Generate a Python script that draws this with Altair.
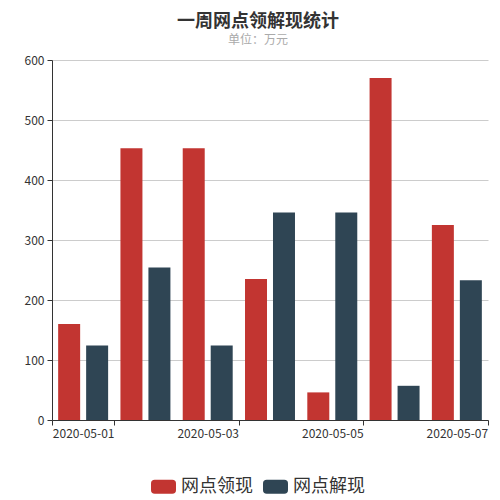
import altair as alt
import pandas as pd

dates = ["2020-05-01", "2020-05-02", "2020-05-03", "2020-05-04",
         "2020-05-05", "2020-05-06", "2020-05-07"]
series_names = ["网点领现", "网点解现"]
ling_xian = [160, 453, 453, 235, 46, 570, 325]
jie_xian = [124, 254, 124, 346, 346, 57, 233]
label_dates = ["2020-05-01", "2020-05-03", "2020-05-05", "2020-05-07"]
y_ticks = [0, 100, 200, 300, 400, 500, 600]
colors = ["#c23531", "#2f4554"]

rows = []
for d, a, b in zip(dates, ling_xian, jie_xian):
    rows.append({"date": d, "series": series_names[0], "value": a})
    rows.append({"date": d, "series": series_names[1], "value": b})
df = pd.DataFrame(rows)

FONT = "Noto Sans CJK SC"
round_rect = ("M-0.7,-0.56 L0.7,-0.56 Q1,-0.56 1,-0.26 L1,0.26 Q1,0.56 0.7,0.56 "
              "L-0.7,0.56 Q-1,0.56 -1,0.26 L-1,-0.26 Q-1,-0.56 -0.7,-0.56 Z")

chart = alt.Chart(df).mark_bar().encode(
    x=alt.X("date:N", sort=dates,
            scale=alt.Scale(paddingInner=0, paddingOuter=0),
            axis=alt.Axis(values=label_dates, tickBand="extent", labelAngle=0,
                          title=None, grid=False, domainColor="#333",
                          tickColor="#333", labelColor="#333", labelFontSize=12,
                          labelPadding=3, labelFont=FONT, tickSize=5)),
    xOffset=alt.XOffset("series:N", sort=series_names,
                        scale=alt.Scale(paddingInner=0.214, paddingOuter=0.22)),
    y=alt.Y("value:Q", scale=alt.Scale(domain=[0, 600]),
            axis=alt.Axis(values=y_ticks, title=None, gridColor="#ccc",
                          domainColor="#333", tickColor="#333", labelColor="#333",
                          labelFontSize=12, labelPadding=3, labelFont=FONT,
                          tickSize=5)),
    color=alt.Color("series:N", sort=series_names,
                    scale=alt.Scale(domain=series_names, range=colors),
                    legend=alt.Legend(orient="none", direction="horizontal",
                                      legendX=99, legendY=414, title=None,
                                      symbolType=round_rect, symbolSize=625,
                                      symbolStrokeWidth=0, labelFontSize=18,
                                      labelColor="#333", labelFont=FONT,
                                      labelOffset=5, columnPadding=10)),
).properties(
    width=436, height=360, autosize="none",
    padding={"left": 44, "top": 52, "right": 4, "bottom": 90},
    title=alt.TitleParams(text="一周网点领解现统计", subtitle="单位：万元",
                          anchor="middle", dx=-12, fontSize=18, fontWeight="bold",
                          color="#333", font=FONT, subtitleFont=FONT,
                          subtitleFontSize=12, subtitleColor="#aaa",
                          subtitlePadding=4, offset=8),
).configure_view(stroke=None)

chart.save("out.html", embed_options={"renderer": "svg", "actions": False})
